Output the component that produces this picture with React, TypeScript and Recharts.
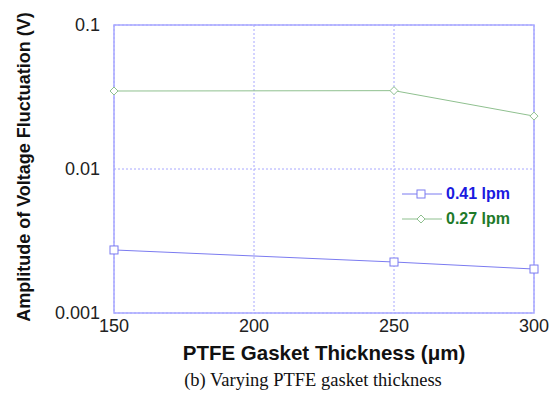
import { LineChart, Line, XAxis, YAxis, CartesianGrid, ReferenceArea, Label } from "recharts";

const thickness = [150, 250, 300];
const flow041 = [0.00274, 0.00226, 0.00202];
const flow027 = [0.0348, 0.035, 0.0233];
const xTicks = [150, 200, 250, 300];
const yTicks = [0.001, 0.01, 0.1];
const seriesNames = ["0.41 lpm", "0.27 lpm"];

const rows = thickness.map((t, i) => ({ t, a: flow041[i], b: flow027[i] }));

const BLUE_LINE = "#7b7bf0";
const GREEN_LINE = "#8fc08f";
const GRID = "#a8a8ff";
const font = "Liberation Sans, Arial, sans-serif";

function Square(props: any) {
  const { cx, cy } = props;
  if (cx == null || cy == null) return null;
  return <rect x={cx - 4} y={cy - 4} width={8} height={8} fill="white" stroke={BLUE_LINE} strokeWidth={1} />;
}

function Diamond(props: any) {
  const { cx, cy } = props;
  if (cx == null || cy == null) return null;
  return (
    <path d={`M${cx},${cy - 4}L${cx + 4},${cy}L${cx},${cy + 4}L${cx - 4},${cy}Z`} fill="white" stroke={GREEN_LINE} strokeWidth={1} />
  );
}

function LegendBox() {
  const item = (color: string, text: string, textColor: string, marker: "sq" | "di") => (
    <div style={{ display: "flex", alignItems: "center", height: 25 }}>
      <svg width={44} height={12}>
        <line x1={0} y1={6} x2={40} y2={6} stroke={color} />
        {marker === "sq" ? (
          <rect x={15} y={2} width={8} height={8} fill="white" stroke={color} />
        ) : (
          <path d="M19,2L23,6L19,10L15,6Z" fill="white" stroke={color} />
        )}
      </svg>
      <span style={{ color: textColor, fontWeight: "bold", fontSize: 16, fontFamily: font }}>{text}</span>
    </div>
  );
  return (
    <div style={{ position: "absolute", left: 402, top: 181 }}>
      {item(BLUE_LINE, seriesNames[0], "#1a1ae0", "sq")}
      {item(GREEN_LINE, seriesNames[1], "#1e7a2a", "di")}
    </div>
  );
}

export default function App() {
  return (
    <div style={{ position: "absolute", left: 0, top: 0, width: 558, height: 399, background: "white" }}>
      <LineChart width={558} height={399} data={rows} margin={{ top: 25, right: 24, left: 0, bottom: 0 }}>
        <CartesianGrid stroke={GRID} strokeDasharray="2 2" />
        <XAxis
          dataKey="t"
          type="number"
          domain={[150, 300]}
          ticks={xTicks}
          height={86}
          axisLine={false}
          tickLine={false}
          tickSize={4}
          tickMargin={2}
          tick={{ fill: "#222", fontSize: 18, fontFamily: font }}
        >
          <Label
            content={() => (
              <text x={324} y={360} textAnchor="middle" fontSize={20.5} fontWeight="bold" fontFamily={font} fill="#111">
                PTFE Gasket Thickness (μm)
              </text>
            )}
          />
        </XAxis>
        <YAxis
          type="number"
          scale="log"
          domain={[0.001, 0.1]}
          ticks={yTicks}
          width={114}
          axisLine={false}
          tickLine={false}
          tickSize={8}
          tickMargin={6}
          allowDataOverflow
          tickFormatter={(v: number) => String(v)}
          tick={{ fill: "#222", fontSize: 18, fontFamily: font }}
        >
          <Label
            content={() => (
              <text
                x={30}
                y={167}
                transform="rotate(-90 30 167)"
                textAnchor="middle"
                fontSize={18}
                fontWeight="bold"
                fontFamily={font}
                fill="#111"
              >
                Amplitude of Voltage Fluctuation (V)
              </text>
            )}
          />
        </YAxis>
        <ReferenceArea x1={150} x2={300} y1={0.001} y2={0.1} fill="none" stroke={GRID} strokeWidth={1.5} ifOverflow="visible" />
        <Line dataKey="a" name={seriesNames[0]} stroke={BLUE_LINE} strokeWidth={1} dot={<Square />} isAnimationActive={false} />
        <Line dataKey="b" name={seriesNames[1]} stroke={GREEN_LINE} strokeWidth={1} dot={<Diamond />} isAnimationActive={false} />
      </LineChart>
      <LegendBox />
      <div
        style={{
          position: "absolute",
          left: 0,
          width: 626,
          top: 370,
          textAlign: "center",
          fontFamily: "Liberation Serif, Times New Roman, serif",
          fontSize: 18.5,
          color: "#111",
        }}
      >
        (b) Varying PTFE gasket thickness
      </div>
    </div>
  );
}
